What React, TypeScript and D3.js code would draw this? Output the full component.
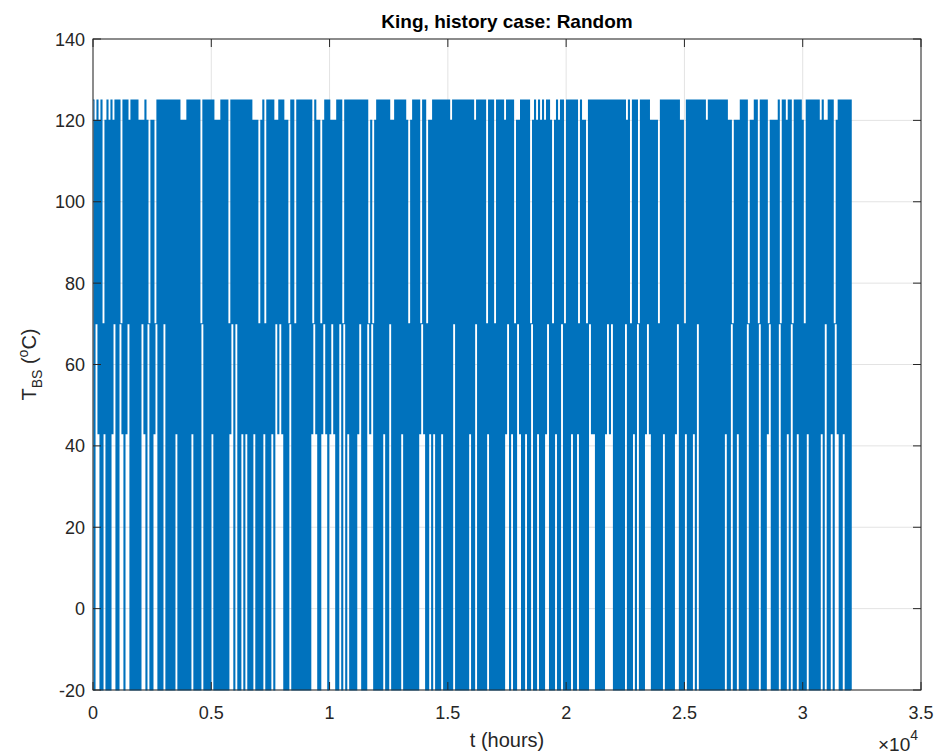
import React from "react";
import * as d3 from "d3";

// Temperature levels visited by the random history (°C)
const LEVELS = [125, 120, 70, 43, -20];
// Sequence of peak levels (index into LEVELS), one per ~2 px
const PEAK_CODES = (
  "0101021010 1000200010 0001110121 1200000000 0000111000 " +
  "0000200000 0111000020 0000000000 1112102000 0110001120 " +
  "0200000000 2011210001 1100020000 0000000021 2100000001 " +
  "1000000121 0000200211 0000000001 0000000000 0100000200 " +
  "0200001000 0211000002 1010101001 2101002000 0002011200 " +
  "0000000000 0000000102 0002000001 1112000000 0000112000 " +
  "0000000100 0000000011 2111000021 1002000021 1110200100 " +
  "2000012000 0000101100 0210000000"
).replace(/ /g, "");
// Sequence of trough levels (index into LEVELS)
const TROUGH_CODES = (
  "4234434443 2442343244 4444234244 3244424444 4344444443 " +
  "4444244443 4444444432 4244343444 3444434443 4232344424 " +
  "4444444443 2344323432 3442424344 4432444232 4444434424 " +
  "4444344444 4443234434 3444344444 2444444434 4244444344 " +
  "4444443243 4423443442 4434443244 4344244443 4434444423 " +
  "3444443232 4444442444 3424443234 4444434444 4324443444 " +
  "3424444444 4444443442 4434444244 4442444324 4442444342 " +
  "4434444344 4444342443 4234434444"
).replace(/ /g, "");
const T_END = 32050; // hours
const X_TICKS = [0, 5000, 10000, 15000, 20000, 25000, 30000, 35000];
const X_TICK_LABELS = ["0", "0.5", "1", "1.5", "2", "2.5", "3", "3.5"];
const Y_TICKS = [-20, 0, 20, 40, 60, 80, 100, 120, 140];

const W = 937;
const H = 755;
const M = { left: 93, right: 921, top: 39, bottom: 690 };
const FONT = "'Liberation Sans', Arial, Helvetica, sans-serif";
const AX = "#262626";

export default function App() {
  const x = d3.scaleLinear().domain([0, 35000]).range([M.left, M.right]);
  const y = d3.scaleLinear().domain([-20, 140]).range([M.bottom, M.top]);

  const values: number[] = [];
  for (let i = 0; i < PEAK_CODES.length; i++) {
    values.push(LEVELS[+PEAK_CODES[i]]);
    values.push(LEVELS[+TROUGH_CODES[i]]);
  }
  const n = values.length;
  const data = values.map((v, k) => ({ t: (k * T_END) / (n - 1), v }));
  const line = d3
    .line<{ t: number; v: number }>()
    .curve(d3.curveStepAfter)
    .x((d) => x(d.t))
    .y((d) => y(d.v));

  const tl = 8;
  return (
    <svg
      width={W}
      height={H}
      style={{ position: "absolute", left: 0, top: 0, background: "#fff" }}
      fontFamily={FONT}
    >
      <rect x={0} y={0} width={W} height={H} fill="#fff" />
      {/* grid */}
      {X_TICKS.map((t) => (
        <line key={"gx" + t} x1={x(t)} x2={x(t)} y1={M.top} y2={M.bottom} stroke="#e3e3e3" strokeWidth={1} />
      ))}
      {Y_TICKS.map((t) => (
        <line key={"gy" + t} x1={M.left} x2={M.right} y1={y(t)} y2={y(t)} stroke="#e3e3e3" strokeWidth={1} />
      ))}
      {/* data */}
      <path d={line(data) || ""} fill="none" stroke="#0072BD" strokeWidth={1.1} strokeLinejoin="miter" />
      {/* box */}
      <rect x={M.left} y={M.top} width={M.right - M.left} height={M.bottom - M.top} fill="none" stroke={AX} strokeWidth={1} />
      {/* ticks */}
      {X_TICKS.map((t) => (
        <g key={"tx" + t}>
          <line x1={x(t)} x2={x(t)} y1={M.bottom} y2={M.bottom - tl} stroke={AX} />
          <line x1={x(t)} x2={x(t)} y1={M.top} y2={M.top + tl} stroke={AX} />
        </g>
      ))}
      {Y_TICKS.map((t) => (
        <g key={"ty" + t}>
          <line x1={M.left} x2={M.left + tl} y1={y(t)} y2={y(t)} stroke={AX} />
          <line x1={M.right} x2={M.right - tl} y1={y(t)} y2={y(t)} stroke={AX} />
        </g>
      ))}
      {/* tick labels */}
      {X_TICKS.map((t, i) => (
        <text key={"lx" + t} x={x(t)} y={719} textAnchor="middle" fontSize={18} fill={AX}>
          {X_TICK_LABELS[i]}
        </text>
      ))}
      {Y_TICKS.map((t) => (
        <text key={"ly" + t} x={85} y={y(t) + 6.5} textAnchor="end" fontSize={18} fill={AX}>
          {t}
        </text>
      ))}
      {/* exponent */}
      <text x={918} y={751} textAnchor="end" fontSize={19} fill={AX}>
        ×10<tspan dy={-11} fontSize={14}>4</tspan>
      </text>
      {/* x label */}
      <text x={(M.left + M.right) / 2} y={747} textAnchor="middle" fontSize={20} fill={AX}>
        t (hours)
      </text>
      {/* y label */}
      <text transform={`translate(36, ${(M.top + M.bottom) / 2}) rotate(-90)`} textAnchor="middle" fontSize={20} fill={AX}>
        T<tspan dy={6} fontSize={14}>BS</tspan>
        <tspan dy={-6}> (</tspan>
        <tspan dy={-8} fontSize={14}>o</tspan>
        <tspan dy={8}>C)</tspan>
      </text>
      {/* title */}
      <text x={(M.left + M.right) / 2} y={28} textAnchor="middle" fontSize={19} fontWeight="bold" fill="#000">
        King, history case: Random
      </text>
    </svg>
  );
}
